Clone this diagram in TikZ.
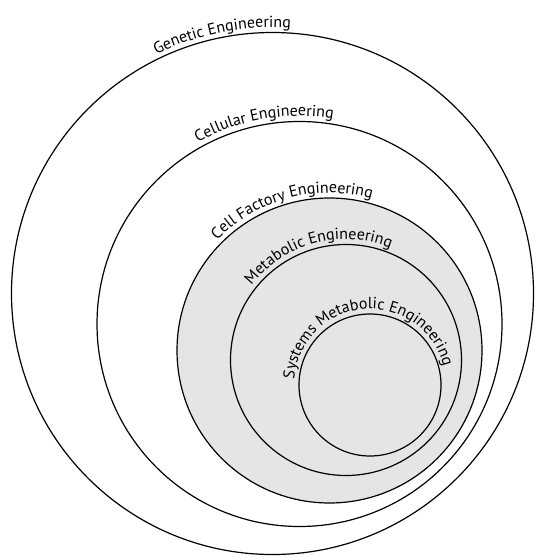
\documentclass[tikz,border=0pt]{standalone}
\usepackage{fontspec}
\setmainfont{PT Sans}
\usetikzlibrary{decorations.text}
\tikzset{
  ring/.style={circle, draw=black, line width=1.2pt, inner sep=0pt},
  grayring/.style={ring, fill=black!10},
  arclabel/.style={decorate, decoration={text along path, text align=center, text={|\fontsize{16}{18}\selectfont|#1}}}
}
\begin{document}
\begin{tikzpicture}[x=1pt,y=1pt]
\useasboundingbox (0,0) rectangle (535,-557);
\node[ring, minimum size=522pt] (c1) at (272.5,-293.5) {};
\node[ring, minimum size=405pt] (c2) at (299.5,-324) {};
\node[grayring, minimum size=305pt] (c3) at (329.5,-350.5) {};
\node[grayring, minimum size=231pt] (c4) at (346,-360) {};
\node[grayring, minimum size=142pt] (c5) at (370,-385) {};
\path[arclabel={Genetic Engineering}] (c1.center) ++(161:266) arc[start angle=161, end angle=41, radius=266];
\path[arclabel={Cellular Engineering}] (c2.center) ++(160:208) arc[start angle=160, end angle=40, radius=208];
\path[arclabel={Cell Factory Engineering}] (c3.center) ++(175:157.5) arc[start angle=175, end angle=35, radius=157.5];
\path[arclabel={Metabolic Engineering}] (c4.center) ++(180:120.5) arc[start angle=180, end angle=30, radius=120.5];
\path[arclabel={Systems Metabolic Engineering}] (c5.center) ++(200:76) arc[start angle=200, end angle=-10, radius=76];
\end{tikzpicture}
\end{document}
